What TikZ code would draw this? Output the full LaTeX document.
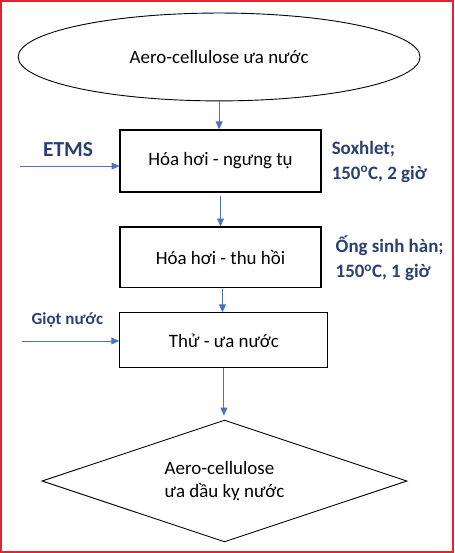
\documentclass[tikz,border=0pt]{standalone}
\usepackage{fontspec}
\setmainfont{Carlito}
\usepackage{xcolor}
\usetikzlibrary{arrows.meta,shapes.geometric}
\definecolor{flowred}{HTML}{E0262B}
\definecolor{flowblue}{HTML}{4A72BE}
\definecolor{flownavy}{HTML}{2B3F73}

\begin{document}
\begin{tikzpicture}[x=1cm,y=1cm,
    stepbox/.style={draw=black, line width=1.1pt, rectangle, inner sep=0pt, font=\fontsize{19}{23}\selectfont},
    flowarrow/.style={draw=flowblue, line width=0.9pt, -{Triangle[length=2.8mm,width=2.4mm]}},
    sidenote/.style={anchor=west, align=left, text=flownavy, font=\bfseries\fontsize{19}{25}\selectfont}]
  \useasboundingbox (0,0) rectangle (16.02,19.51);
  \draw[flowred, line width=1.6pt] (0.04,0.04) rectangle (15.98,19.47);

  % Main flow
  \node[draw=black, line width=0.9pt, ellipse, inner sep=0pt, minimum width=14.18cm, minimum height=3.10cm, font=\fontsize{19}{23}\selectfont] (start) at (7.73,17.50) {Aero-cellulose ưa nước};
  \node[stepbox, minimum width=7.09cm, minimum height=2.19cm] (vapor) at (7.78,13.83) {Hóa hơi - ngưng tụ};
  \node[stepbox, minimum width=7.09cm, minimum height=2.12cm] (recover) at (7.78,10.44) {Hóa hơi - thu hồi};
  \node[stepbox, minimum width=7.34cm, minimum height=1.94cm] (test) at (7.90,7.50) {Thử - ưa nước};
  \node[draw=black, line width=0.9pt, diamond, inner sep=0pt, minimum width=12.88cm, minimum height=4.30cm] (result) at (7.92,2.54) {};
  \node[align=left, font=\fontsize{19}{24}\selectfont] (resulttext) at (result) {Aero-cellulose\\ưa dầu kỵ nước};

  \draw[flowarrow] (start.south) -- (start.south |- vapor.north);
  \draw[flowarrow, shorten <=3pt] (vapor.south) -- (vapor.south |- recover.north);
  \draw[flowarrow, shorten <=1pt] ([xshift=2pt]recover.south) -- ([xshift=2pt]recover.south |- test.north);
  \draw[flowarrow] (test.south) -- ([yshift=4pt]test.south |- result.north);

  % Inputs
  \coordinate (etmsin) at (0.71,13.65);
  \coordinate (dropin) at (0.78,7.48);
  \node[text=flownavy, font=\bfseries\fontsize{21.5}{25}\selectfont] (etms) at (2.40,14.25) {ETMS};
  \node[text=flownavy, font=\bfseries\fontsize{17}{20}\selectfont] (drop) at (2.38,8.22) {Giọt nước};
  \draw[flowarrow] (etmsin) -- (etmsin -| vapor.west);
  \draw[flowarrow] (dropin) -- (dropin -| test.west);

  % Conditions
  \node[sidenote] (soxhlet) at (11.58,13.81) {Soxhlet;\\150\textsuperscript{o}C, 2 giờ};
  \node[sidenote] (condenser) at (11.72,10.39) {Ống sinh hàn;\\150\textsuperscript{o}C, 1 giờ};
\end{tikzpicture}
\end{document}
